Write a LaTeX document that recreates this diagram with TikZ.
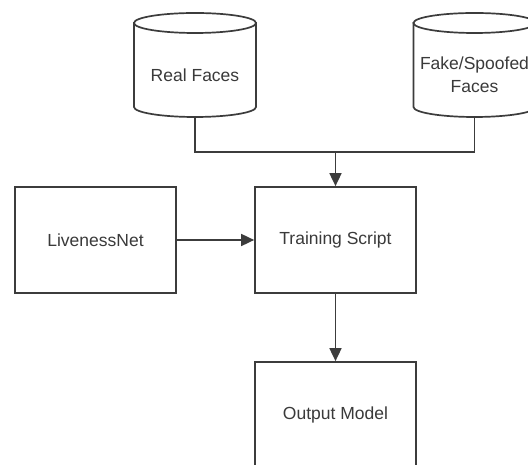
\documentclass[tikz,border=0pt]{standalone}
\usepackage{fontspec}
\setmainfont{Liberation Sans}
\usetikzlibrary{arrows.meta}
\definecolor{ln}{HTML}{3C3C3C}
\definecolor{tx}{HTML}{3A3A3A}
\tikzset{
  lbl/.style={font=\fontsize{17.5}{23}\selectfont, text=tx, align=center, inner sep=0pt},
  stepbox/.style={draw=ln, line width=1.7pt, fill=white, minimum width=161pt, minimum height=106pt, lbl},
  conn/.style={draw=ln, line width=1.7pt},
  arr/.style={conn, -{Triangle[length=13pt,width=12pt]}},
  cylline/.style={draw=ln, line width=1.7pt, fill=white}
}
\begin{document}
\begin{tikzpicture}[x=1pt,y=1pt]
\path[use as bounding box, clip] (0,0) rectangle (528,465);
\fill[white] (0,0) rectangle (528,465);
% cylinders
\path[cylline] (134,442) -- (134,358) arc[start angle=180,end angle=360,x radius=61pt,y radius=10pt] -- (256,442) -- cycle;
\path[cylline] (195,442) ellipse[x radius=61pt,y radius=10pt];
\path[cylline] (413.5,442) -- (413.5,358) arc[start angle=180,end angle=360,x radius=61pt,y radius=10pt] -- (535.5,442) -- cycle;
\path[cylline] (474.5,442) ellipse[x radius=61pt,y radius=10pt];
\node[lbl, minimum width=122pt, minimum height=84pt, anchor=south] (real) at (195,348) {Real Faces};
\node[lbl, minimum width=122pt, minimum height=84pt, anchor=south] (fake) at (474.5,348) {Fake/Spoofed\\Faces};
% boxes
\node[stepbox] (train) at (335.5,225) {Training Script};
\node[stepbox] (live) at (95.5,225) {LivenessNet};
\node[stepbox] (out) at (335.5,50) {Output Model};
% connectors
\coordinate (j) at (335.5,313);
\draw[conn] (real.south) |- (j) -| (fake.south);
\draw[arr] (j) -- (train.north);
\draw[arr] (live.east) -- (train.west);
\draw[arr] (train.south) -- (out.north);
\end{tikzpicture}
\end{document}
